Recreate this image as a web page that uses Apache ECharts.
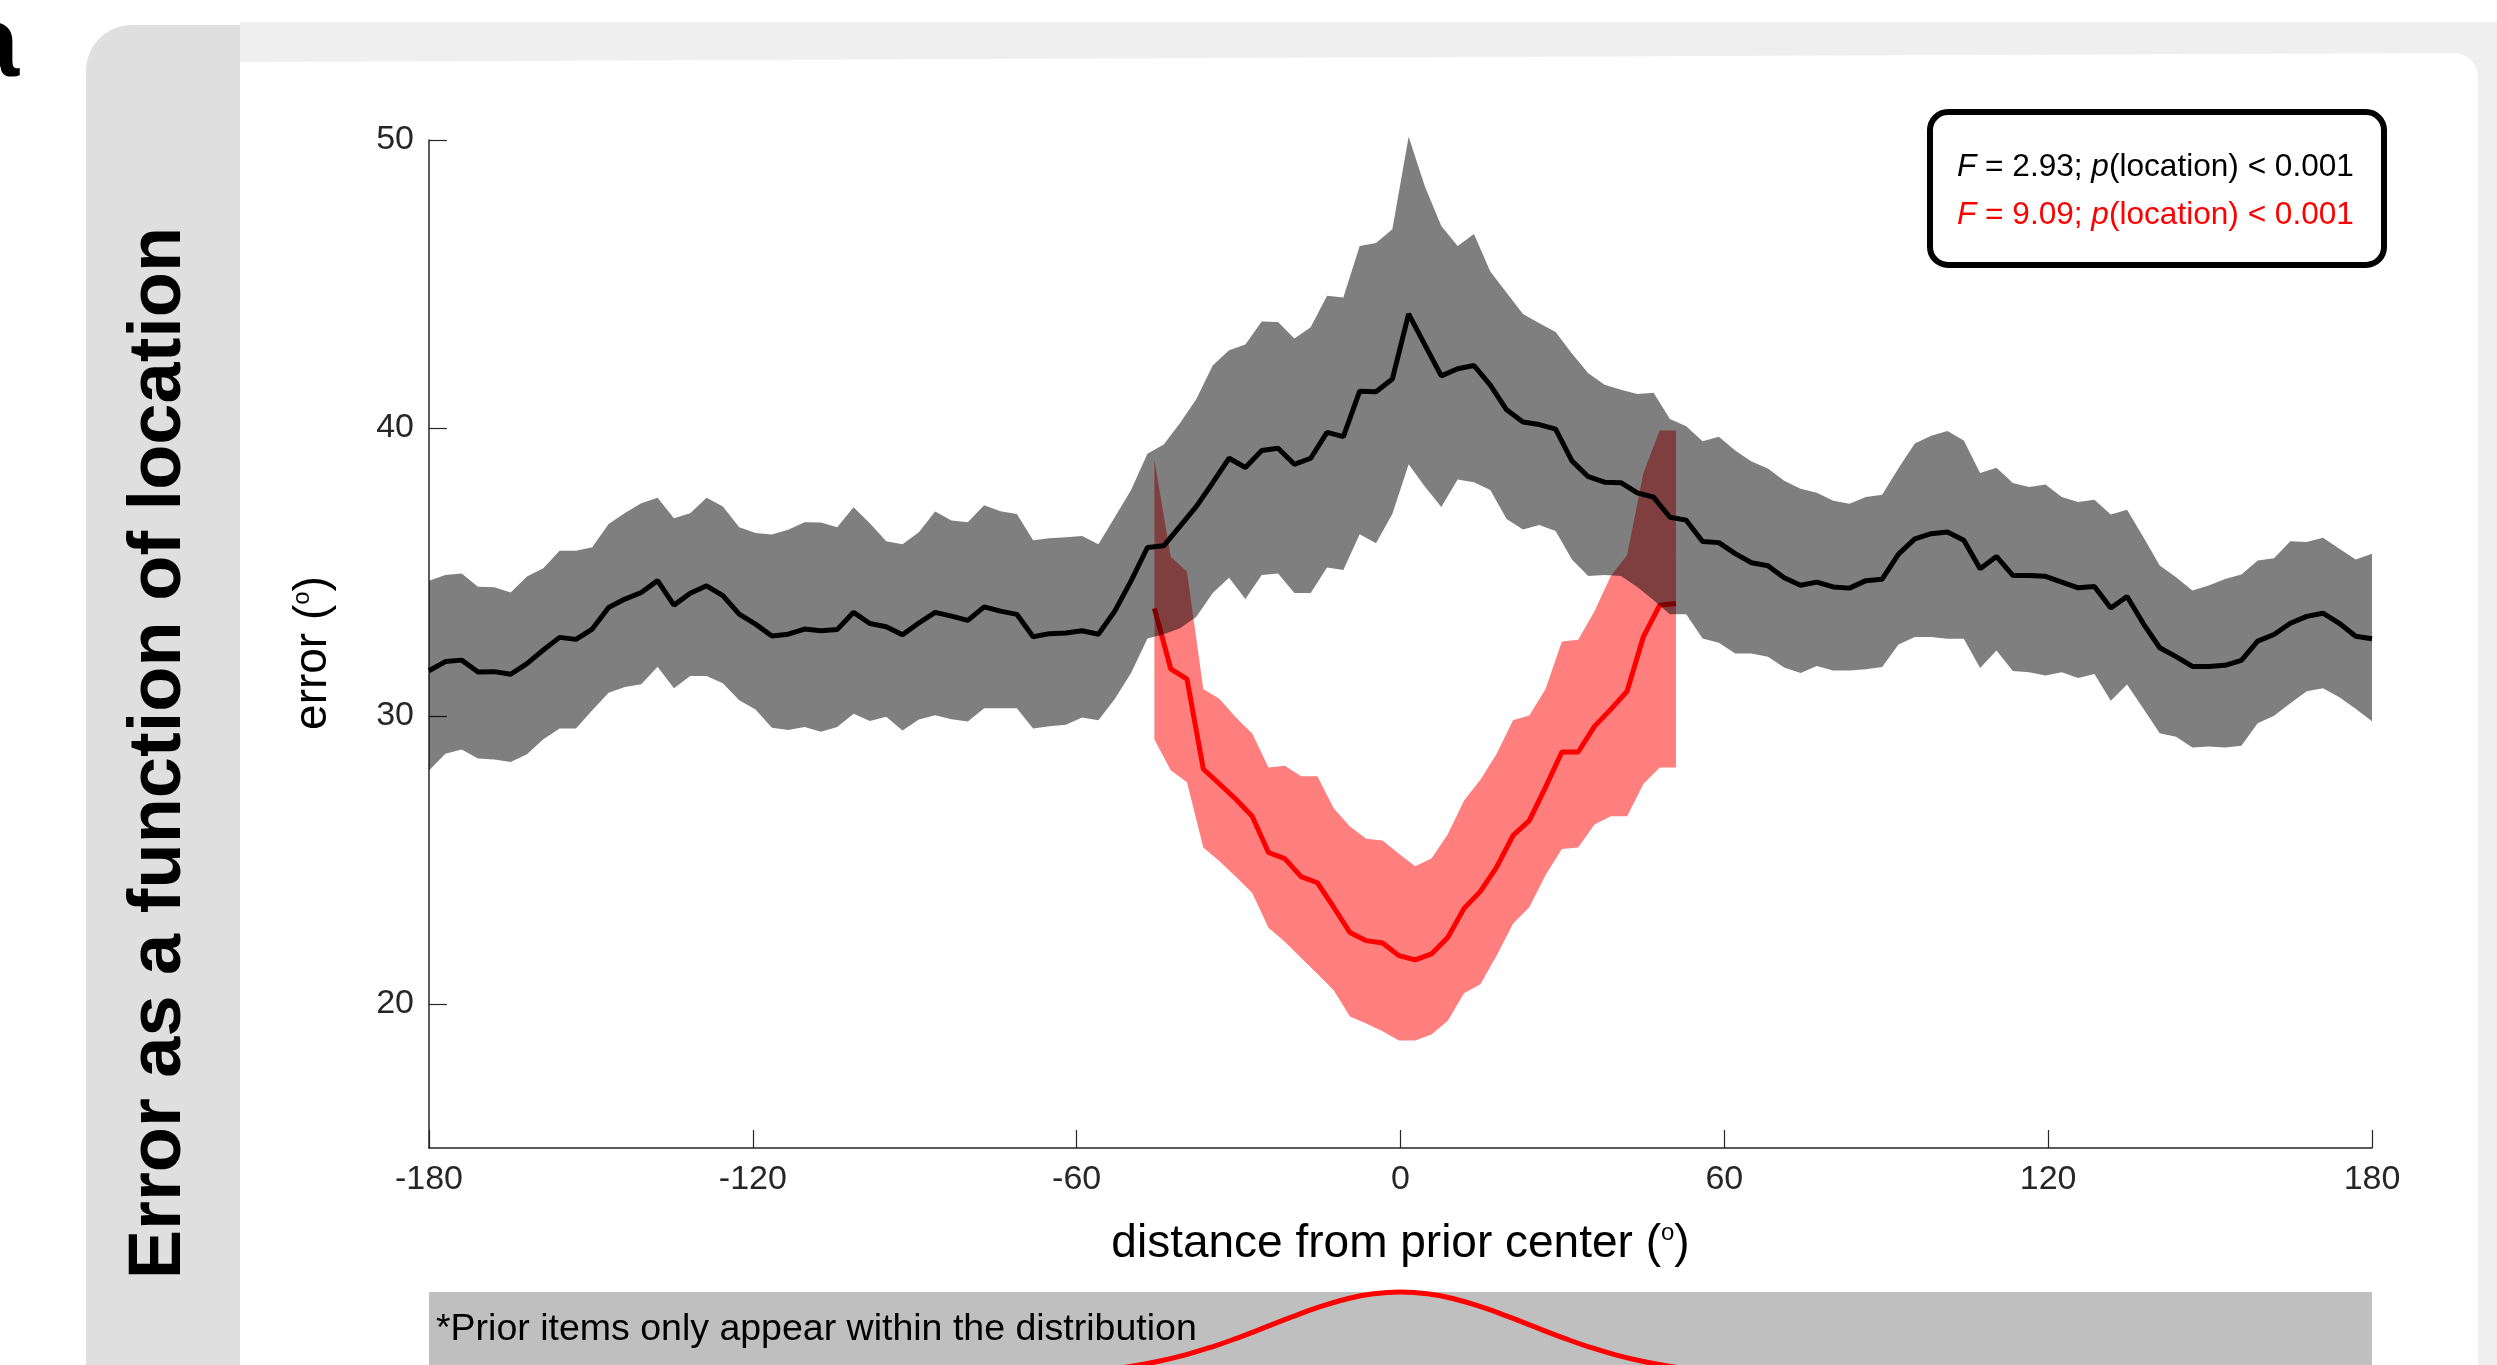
<!DOCTYPE html>
<html><head><meta charset="utf-8">
<script src="https://cdn.jsdelivr.net/npm/echarts@6/dist/echarts.min.js"></script>
<style>html,body{margin:0;padding:0;background:#fff}#c{width:2497px;height:1365px}</style>
</head><body><div id="c"></div>
<script>
// ---- data ----
const xBins = [-180,-176.97,-173.95,-170.92,-167.90,-164.87,-161.85,-158.82,-155.80,-152.77,
-149.75,-146.72,-143.70,-140.67,-137.65,-134.62,-131.60,-128.57,-125.55,-122.52,
-119.50,-116.47,-113.45,-110.42,-107.39,-104.37,-101.34,-98.32,-95.29,-92.27,
-89.24,-86.22,-83.19,-80.17,-77.14,-74.12,-71.09,-68.07,-65.04,-62.02,
-58.99,-55.97,-52.94,-49.92,-46.89,-43.87,-40.84,-37.82,-34.79,-31.76,
-28.74,-25.71,-22.69,-19.66,-16.64,-13.61,-10.59,-7.56,-4.54,-1.51,
1.51,4.54,7.56,10.59,13.61,16.64,19.66,22.69,25.71,28.74,
31.76,34.79,37.82,40.84,43.87,46.89,49.92,52.94,55.97,58.99,
62.02,65.04,68.07,71.09,74.12,77.14,80.17,83.19,86.22,89.24,
92.27,95.29,98.32,101.34,104.37,107.39,110.42,113.45,116.47,119.50,
122.52,125.55,128.57,131.60,134.62,137.65,140.67,143.70,146.72,149.75,
152.77,155.80,158.82,161.85,164.87,167.90,170.92,173.95,176.97,180];

const meanAll = [31.57,31.89,31.94,31.53,31.54,31.45,31.82,32.29,32.73,32.66,
33.02,33.77,34.06,34.29,34.70,33.85,34.26,34.52,34.18,33.54,
33.19,32.78,32.84,33.02,32.96,33.00,33.60,33.21,33.10,32.82,
33.23,33.60,33.47,33.32,33.79,33.64,33.53,32.75,32.86,32.88,
32.96,32.84,33.64,34.69,35.85,35.91,36.59,37.28,38.10,38.95,
38.63,39.22,39.30,38.74,38.95,39.85,39.70,41.28,41.26,41.70,
43.96,42.88,41.81,42.06,42.17,41.49,40.63,40.21,40.12,39.96,
38.86,38.31,38.12,38.10,37.75,37.60,36.90,36.80,36.06,36.02,
35.64,35.32,35.22,34.80,34.54,34.65,34.48,34.44,34.70,34.75,
35.62,36.15,36.33,36.39,36.10,35.11,35.54,34.88,34.88,34.85,
34.65,34.45,34.50,33.75,34.15,33.20,32.37,32.06,31.72,31.72,
31.76,31.93,32.60,32.83,33.22,33.46,33.57,33.22,32.77,32.68];

const upperAll = [34.70,34.90,34.95,34.49,34.47,34.29,34.84,35.13,35.74,35.74,
35.86,36.67,37.05,37.39,37.58,36.87,37.04,37.58,37.27,36.55,
36.35,36.30,36.47,36.73,36.72,36.55,37.25,36.69,36.07,35.96,
36.38,37.10,36.79,36.73,37.32,37.11,37.01,36.10,36.17,36.21,
36.25,35.96,36.90,37.85,39.11,39.43,40.17,41.01,42.17,42.70,
42.90,43.70,43.68,43.11,43.50,44.59,44.53,46.32,46.42,46.90,
50.11,48.38,47.01,46.32,46.74,45.43,44.70,43.96,43.64,43.33,
42.59,41.90,41.50,41.33,41.18,41.22,40.31,40.06,39.54,39.70,
39.22,38.84,38.59,38.17,37.89,37.75,37.47,37.37,37.60,37.68,
38.60,39.46,39.73,39.90,39.57,38.44,38.62,38.09,37.95,38.04,
37.60,37.43,37.51,37.00,37.16,36.21,35.23,34.82,34.36,34.53,
34.76,34.91,35.40,35.48,36.07,36.04,36.19,35.81,35.43,35.63];

const lowerAll = [28.11,28.69,28.84,28.52,28.49,28.40,28.67,29.19,29.57,29.57,
30.20,30.81,31.01,31.10,31.71,30.96,31.39,31.39,31.14,30.55,
30.23,29.59,29.51,29.62,29.45,29.62,30.08,29.83,29.97,29.50,
29.88,30.03,29.89,29.81,30.27,30.27,30.27,29.57,29.64,29.70,
29.95,29.85,30.59,31.49,32.69,32.84,33.05,33.45,34.27,34.80,
34.06,34.90,34.95,34.27,34.27,35.16,35.07,36.31,36.00,37.01,
38.74,37.96,37.26,38.21,38.12,37.85,36.84,36.48,36.63,36.42,
35.43,34.86,34.90,34.86,34.48,34.02,33.53,33.53,32.69,32.54,
32.17,32.17,32.06,31.68,31.49,31.74,31.58,31.58,31.62,31.70,
32.48,32.74,32.74,32.68,32.68,31.67,32.27,31.56,31.52,31.41,
31.52,31.32,31.46,30.53,31.09,30.25,29.40,29.28,28.91,28.94,
28.91,28.97,29.75,30.01,30.44,30.86,30.96,30.65,30.25,29.82];

const xPriorBins = [-45.60,-42.58,-39.56,-36.54,-33.52,-30.50,-27.48,-24.46,-21.44,-18.42,
-15.40,-12.38,-9.36,-6.34,-3.32,-0.30,2.72,5.74,8.76,11.78,
14.80,17.82,20.84,23.86,26.88,29.90,32.92,35.94,38.96,41.98,
45.00,48.02,51.04];
const meanPrior = [33.74,31.64,31.28,28.16,27.64,27.11,26.52,25.26,25.05,24.42,
24.21,23.36,22.48,22.20,22.12,21.68,21.53,21.74,22.31,23.32,
23.91,24.75,25.85,26.37,27.53,28.75,28.75,29.64,30.23,30.86,
32.75,33.85,33.91];
const upperPrior = [38.90,35.53,35.01,30.94,30.59,29.95,29.39,28.21,28.27,27.91,
27.91,26.80,26.16,25.74,25.68,25.22,24.78,25.05,25.89,27.07,
27.79,28.69,29.85,30.02,30.94,32.59,32.65,33.64,34.86,35.58,
38.44,39.91,39.91];
const lowerPrior = [29.18,28.12,27.70,25.43,24.96,24.42,23.85,22.65,22.16,21.60,
21.05,20.48,19.57,19.32,19.05,18.73,18.73,18.94,19.42,20.37,
20.69,21.68,22.79,23.36,24.48,25.38,25.43,26.23,26.52,26.52,
27.64,28.21,28.21];

// prior distribution sketch (relative height) in the strip below the axis
const distX = [-60,-55,-50,-45,-40,-35,-30,-25,-20,-15,-10,-5,0,5,10,15,20,25,30,35,40,45,50,55,60];
const distY = [0.044,0.072,0.114,0.172,0.249,0.345,0.458,0.581,0.707,0.823,0.917,0.979,1.000,
0.979,0.917,0.823,0.707,0.581,0.458,0.345,0.249,0.172,0.114,0.072,0.044];

const yTicks = [20, 30, 40, 50];
const titleText = 'Error as a function of location';
const statsBlack = ['F', ' = 2.93; ', 'p', '(location) < 0.001'];
const statsRed = ['F', ' = 9.09; ', 'p', '(location) < 0.001'];
const noteText = '*Prior items only appear within the distribution';

// ---- build ----
const FONT = '"Liberation Sans", Arial, Helvetica, sans-serif';
const AX = '#262626';
const pairs = (xs, ys) => xs.map((x, i) => [x, ys[i]]);

function bandSeries(xs, lo, up, color, z) {
  return {
    type: 'custom', silent: true, z: z, clip: false,
    data: xs.map((x, i) => [x, lo[i], up[i]]),
    encode: { x: 0, y: [1, 2] },
    renderItem: function (params, api) {
      if (params.dataIndex !== 0) return null;
      const top = xs.map((x, i) => api.coord([x, up[i]]));
      const bot = xs.map((x, i) => api.coord([x, lo[i]])).reverse();
      return { type: 'polygon', shape: { points: top.concat(bot) }, style: { fill: color } };
    }
  };
}

function stats(parts, color) {
  const base = { fontSize: 31.6, fontFamily: FONT, fill: color };
  return {
    text: '{i|' + parts[0] + '}{n|' + parts[1] + '}{i|' + parts[2] + '}{n|' + parts[3] + '}',
    rich: { i: Object.assign({ fontStyle: 'italic' }, base), n: Object.assign({}, base) },
    fontSize: 31.6, fontFamily: FONT, fill: color, align: 'left', verticalAlign: 'middle'
  };
}

const chart = echarts.init(document.getElementById('c'), null, { renderer: 'canvas' });
chart.setOption({
  backgroundColor: '#ffffff',
  animation: false,
  graphic: [
    { type: 'rect', z: -10, shape: { x: 240, y: 22, width: 2300, height: 1400 }, style: { fill: '#efefef' } },
    { type: 'polygon', z: -9, shape: { points: [[240, 62], [2456, 53], [2456, 1400], [240, 1400]] }, style: { fill: '#ffffff' } },
    { type: 'rect', z: -9, shape: { x: 2400, y: 53, width: 78, height: 1400, r: [0, 24, 0, 0] }, style: { fill: '#ffffff' } },
    { type: 'rect', z: -8, shape: { x: 86, y: 25, width: 154, height: 1400, r: [46, 0, 0, 0] }, style: { fill: '#dfdfdf' } },
    { type: 'text', z: -7, x: 160, y: 753, rotation: Math.PI / 2,
      style: { text: titleText, fontSize: 74, fontWeight: 'bold', fontFamily: FONT, fill: '#000', align: 'center', verticalAlign: 'middle' } },
    { type: 'text', z: -7, x: 19, y: 48,
      style: { text: 'a', fontSize: 100, fontWeight: 'bold', fontFamily: FONT, fill: '#000', align: 'right', verticalAlign: 'middle' } },
    { type: 'rect', z: 20, shape: { x: 1930, y: 112, width: 454, height: 153, r: 18 }, style: { fill: '#ffffff', stroke: '#000', lineWidth: 6 } },
    { type: 'text', z: 21, x: 1957, y: 167, style: stats(statsBlack, '#000000') },
    { type: 'text', z: 21, x: 1957, y: 215, style: stats(statsRed, '#ff0000') },
    { type: 'text', z: 21, x: 436, y: 1330,
      style: { text: noteText, fontSize: 37.5, fontFamily: FONT, fill: '#000', align: 'left', verticalAlign: 'middle' } }
  ],
  grid: [
    { left: 429, right: 125, top: 140, bottom: 217, containLabel: false },
    { left: 429, right: 125, top: 1292, bottom: 0, show: true, backgroundColor: '#bfbfbf', borderWidth: 0, z: 0 }
  ],
  xAxis: [{
    gridIndex: 0, type: 'value', min: -180, max: 180, interval: 60,
    axisLine: { show: true, onZero: false, lineStyle: { color: AX, width: 1.5 } },
    axisTick: { show: true, inside: true, length: 18, lineStyle: { color: AX, width: 1.2 } },
    axisLabel: { fontSize: 34, fontFamily: FONT, color: AX, margin: 15 },
    splitLine: { show: false },
    name: '{t|distance from prior center (}{s|o}{t|)}', nameLocation: 'middle', nameGap: 73,
    nameTextStyle: { fontFamily: FONT, color: '#000', lineHeight: 46,
      rich: { t: { fontSize: 46, fontFamily: FONT, color: '#000', lineHeight: 46 },
              s: { fontSize: 24, fontFamily: FONT, color: '#000', lineHeight: 24, verticalAlign: 'top' } } }
  }, {
    gridIndex: 1, type: 'value', min: -180, max: 180, show: false
  }],
  yAxis: [{
    gridIndex: 0, type: 'value', min: 15, max: 50,
    axisLine: { show: true, onZero: false, lineStyle: { color: AX, width: 1.5 } },
    axisTick: { show: true, inside: true, length: 18, customValues: yTicks, lineStyle: { color: AX, width: 1.2 } },
    axisLabel: { fontSize: 34, fontFamily: FONT, color: AX, margin: 15, customValues: yTicks },
    splitLine: { show: false },
    name: '{t|error (}{s|o}{t|)}', nameLocation: 'middle', nameGap: 93,
    nameTextStyle: { fontFamily: FONT, color: '#000', lineHeight: 46, padding: [0, 18, 0, 0],
      rich: { t: { fontSize: 46, fontFamily: FONT, color: '#000', lineHeight: 46 },
              s: { fontSize: 24, fontFamily: FONT, color: '#000', lineHeight: 24, verticalAlign: 'top' } } }
  }, {
    gridIndex: 1, type: 'value', min: 0.131, max: 1, show: false
  }],
  series: [
    bandSeries(xPriorBins, lowerPrior, upperPrior, 'rgba(255,0,0,0.5)', 2),
    { type: 'line', name: 'priorMean', data: pairs(xPriorBins, meanPrior), symbol: 'none', silent: true, z: 3,
      lineStyle: { color: '#ff0000', width: 5 } },
    bandSeries(xBins, lowerAll, upperAll, 'rgba(0,0,0,0.5)', 4),
    { type: 'line', name: 'allMean', data: pairs(xBins, meanAll), symbol: 'none', silent: true, z: 5,
      lineStyle: { color: '#000000', width: 5 } },
    { type: 'line', name: 'dist', xAxisIndex: 1, yAxisIndex: 1, data: pairs(distX, distY), symbol: 'none',
      smooth: true, clip: false, silent: true, z: 5, lineStyle: { color: '#ff0000', width: 5 } }
  ]
});
</script></body></html>
